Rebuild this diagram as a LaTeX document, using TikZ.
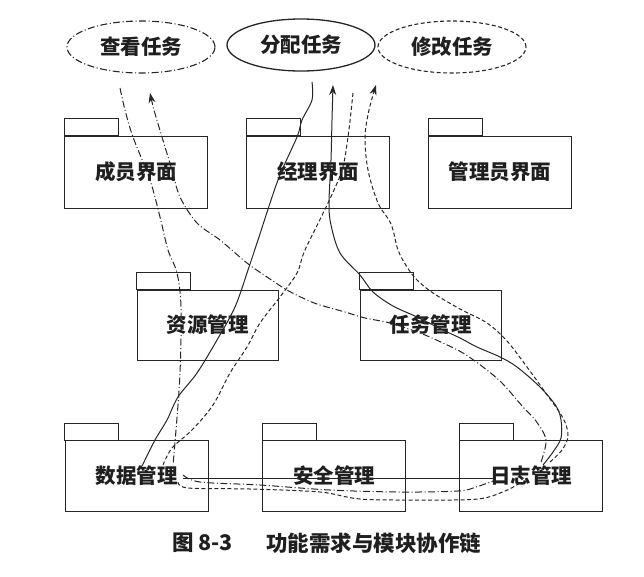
\documentclass[tikz,border=0pt]{standalone}
\usepackage{fontspec}
\newfontfamily\cjk{Noto Sans CJK SC}
\usetikzlibrary{shapes.geometric,arrows.meta}
\begin{document}
\begin{tikzpicture}[x=1pt,y=-1pt,
  lbl/.style={font=\cjk\bfseries\fontsize{20.5}{22}\selectfont, text=black!88},
  pkg/.style={draw=black!85, line width=1pt, minimum width=143pt, minimum height=72pt, inner sep=0pt, lbl},
  usecase/.style={ellipse, draw=black!85, line width=1.1pt, minimum width=148pt, minimum height=52pt, inner sep=0pt, lbl},
  flowsolid/.style={draw=black!85, line width=1pt},
  flowdashdot/.style={draw=black!85, line width=1pt, dash pattern=on 7pt off 2.5pt on 1pt off 2.5pt},
  flowdashed/.style={draw=black!85, line width=1pt, dash pattern=on 4pt off 2.5pt},
  tip/.style={-{Stealth[length=10pt,width=7pt]}},
]
\useasboundingbox (0,0) rectangle (644,576);

% use cases
\node[usecase, dash pattern=on 7pt off 2.5pt on 1pt off 2.5pt] (view) at (141,47) {查看任务};
\node[usecase, line width=1.3pt] (assign) at (301,45) {分配任务};
\node[usecase, dash pattern=on 4pt off 2.5pt] (modify) at (452,47) {修改任务};

% packages
\node[pkg] (member)   at (136,172) {成员界面};
\node[pkg] (manager)  at (318,172) {经理界面};
\node[pkg] (admin)    at (500,172) {管理员界面};
\node[pkg, minimum width=141pt, minimum height=70pt] (resource) at (207.5,325) {资源管理};
\node[pkg, minimum width=141pt, minimum height=70pt] (task)     at (430.5,325) {任务管理};
\node[pkg, minimum height=71pt] (data)     at (136.5,476) {数据管理};
\node[pkg, minimum height=71pt] (security) at (334,476) {安全管理};
\node[pkg, minimum height=71pt] (log)      at (531,476) {日志管理};
\foreach \n in {member,manager,admin,resource,task,data,security,log}
  \draw[draw=black!85, line width=1pt] (\n.north west) rectangle ++(54,-17);

% connector ends
\coordinate (aS) at (312,82);   \coordinate (aE) at (333,85);
\coordinate (vS) at (120,88);   \coordinate (vE) at (150,93);
\coordinate (mS) at (353,93);   \coordinate (mE) at (376,85);
\coordinate (dA) at (142,466);  \coordinate (dV) at (173,465);  \coordinate (dM) at (163,465);
\coordinate (dA2) at (183,478); \coordinate (dV2) at (183,475); \coordinate (dM2) at (178,482);
\coordinate (lA) at (495,478);  \coordinate (lV) at (493,481);  \coordinate (lM) at (520,483);
\coordinate (lA2) at (543,465); \coordinate (lV2) at (541,462); \coordinate (lM2) at (550,462);

% solid chain: assign -> manager -> resource -> data -> log -> task -> manager -> assign
\draw[flowsolid] plot[smooth, tension=0.55] coordinates {(aS) (312,100) (302,120) (297,137) (278,180) (258,240) (248,270) (235,307) (217,340) (197,373) (178,397) (167,420) (155,440) (dA)};
\draw[flowsolid] (dA2) -- (lA);
\draw[flowsolid, tip] plot[smooth, tension=0.55] coordinates {(lA2) (553,452) (561,438) (561,420) (556,406) (540,387) (517,367) (500,357) (477,347) (460,338) (443,330) (417,317) (393,306) (373,292) (360,275) (340,253) (331,225) (329,203) (331,160) (332,120) (aE)};

% dash-dot chain: view -> member -> resource -> data -> log -> task -> member -> view
\draw[flowdashdot] plot[smooth, tension=0.55] coordinates {(vS) (125,110) (133,137) (150,180) (160,217) (168,250) (177,273) (181,307) (180,373) (176,430) (dV)};
\draw[flowdashdot] plot[smooth, tension=0.55] coordinates {(dV2) (200,482) (260,485) (330,490) (400,492) (458,491) (476,487) (lV)};
\draw[flowdashdot, tip] plot[smooth, tension=0.55] coordinates {(lV2) (546,440) (536,421) (523,407) (502,383) (483,367) (463,353) (443,343) (420,333) (390,323) (365,318) (345,312) (320,305) (307,300) (287,290) (267,277) (247,263) (220,240) (197,223) (180,197) (172,170) (162,137) (154,110) (vE)};

% dashed chain: modify -> manager -> resource -> data -> log -> task -> manager -> modify
\draw[flowdashed] plot[smooth, tension=0.55] coordinates {(mS) (348,137) (342,170) (328,203) (305,250) (297,273) (280,297) (260,323) (247,347) (230,373) (213,405) (192,430) (172,448) (dM)};
\draw[flowdashed] plot[smooth, tension=0.55] coordinates {(dM2) (188,488) (250,489) (320,492) (360,499) (420,500) (478,499) (505,491) (lM)};
\draw[flowdashed, tip] plot[smooth, tension=0.55] coordinates {(lM2) (562,450) (568,436) (563,418) (545,392) (527,367) (507,341) (487,323) (460,309) (433,293) (417,280) (407,267) (398,250) (391,224) (378,203) (368,170) (365,137) (369,110) (mE)};

% caption
\node[lbl, font=\cjk\bfseries\fontsize{21.5}{23}\selectfont, anchor=west, inner sep=0pt] (fignum) at (172,543) {图 8-3};
\node[lbl, font=\cjk\bfseries\fontsize{21.5}{23}\selectfont, anchor=west, inner sep=0pt] (figtitle) at (266,543) {功能需求与模块协作链};
\end{tikzpicture}
\end{document}
